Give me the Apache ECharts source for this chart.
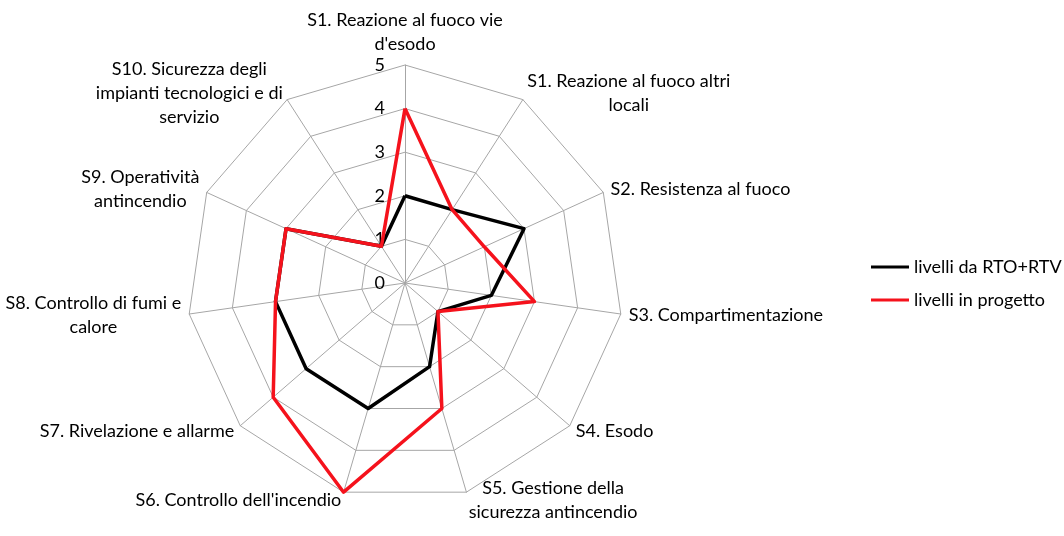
<!DOCTYPE html>
<html>
<head>
<meta charset="utf-8">
<title>radar</title>
<script src="https://cdn.jsdelivr.net/npm/echarts@6/dist/echarts.min.js"></script>
<style>
  html, body { margin: 0; padding: 0; background: #fff; }
  #container { width: 1064px; height: 536px; }
</style>
</head>
<body>
<div id="container"></div>
<script type="text/javascript">
// assi (in senso orario partendo dall'alto)
var assi = [
  "S1. Reazione al fuoco vie\nd'esodo",
  "S1. Reazione al fuoco altri\nlocali",
  "S2. Resistenza al fuoco",
  "S3. Compartimentazione",
  "S4. Esodo",
  "S5. Gestione della\nsicurezza antincendio",
  "S6. Controllo dell'incendio",
  "S7. Rivelazione e allarme",
  "S8. Controllo di fumi e\ncalore",
  "S9. Operatività\nantincendio",
  "S10. Sicurezza degli\nimpianti tecnologici e di\nservizio"
];
var nomeSerie = ["livelli da RTO+RTV", "livelli in progetto"];
var livelliRTO = [2, 2, 3, 2, 1, 2, 3, 3, 3, 3, 1];
var livelliProgetto = [4, 2, 2, 3, 1, 3, 5, 4, 3, 3, 1];
var valMax = 5;

// echarts gira in senso antiorario: il primo resta in alto, gli altri al contrario
function ordina(arr) {
  return [arr[0]].concat(arr.slice(1).reverse());
}

var indicatori = ordina(assi).map(function (n, i) {
  var ind = { name: n, min: 0, max: valMax };
  if (i > 0) ind.axisLabel = { show: false };
  return ind;
});

var font = "Lato, 'Open Sans', sans-serif";
var myChart = echarts.init(document.getElementById("container"));
myChart.setOption({
  animation: false,
  legend: {
    orient: 'vertical',
    left: 866,
    top: 253,
    itemWidth: 38,
    itemHeight: 3,
    itemGap: 15,
    icon: 'rect',
    textStyle: { fontFamily: font, fontSize: 18, color: '#000' },
    data: nomeSerie
  },
  radar: {
    center: [405, 283],
    radius: 218,
    splitNumber: 5,
    shape: 'polygon',
    startAngle: 90,
    nameGap: 8,
    axisName: {
      color: '#000', fontFamily: font, fontSize: 18, lineHeight: 24,
      // righe centrate come nel grafico originale
      formatter: function (n) {
        return n.split('\n').map(function (r) { return '{c|' + r + '}'; }).join('\n');
      },
      rich: { c: { align: 'center', color: '#000', fontFamily: font, fontSize: 18, lineHeight: 24 } }
    },
    axisLine: { lineStyle: { color: '#a6a6a6', width: 1 } },
    splitLine: { lineStyle: { color: '#a6a6a6', width: 1 } },
    splitArea: { show: false },
    axisTick: { show: false },
    axisLabel: { show: true, color: '#000', fontFamily: font, fontSize: 18, margin: 20 },
    indicator: indicatori
  },
  series: [{
    type: 'radar',
    symbol: 'none',
    data: [
      { name: nomeSerie[0], value: ordina(livelliRTO),
        lineStyle: { color: '#000', width: 3.5 }, itemStyle: { color: '#000' } },
      { name: nomeSerie[1], value: ordina(livelliProgetto),
        lineStyle: { color: '#f5121c', width: 3.5 }, itemStyle: { color: '#f5121c' } }
    ]
  }]
});
</script>
</body>
</html>
